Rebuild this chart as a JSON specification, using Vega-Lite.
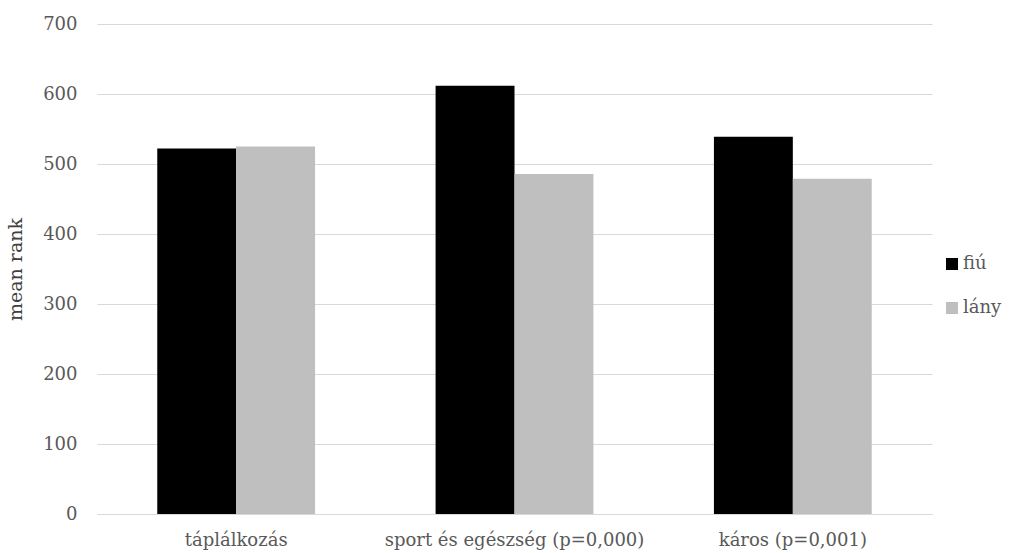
{
  "$schema": "https://vega.github.io/schema/vega-lite/v6.json",
  "width": 835,
  "height": 490,
  "autosize": "none",
  "padding": {"left": 97, "top": 24, "right": 101, "bottom": 39},
  "background": "white",
  "config": {
    "view": {"stroke": null},
    "font": "DejaVu Serif"
  },
  "data": {
    "values": [
      {"kategoria": "táplálkozás", "nem": "fiú", "rang": 522.3},
      {"kategoria": "táplálkozás", "nem": "lány", "rang": 525.1},
      {"kategoria": "sport és egészség (p=0,000)", "nem": "fiú", "rang": 611.9},
      {"kategoria": "sport és egészség (p=0,000)", "nem": "lány", "rang": 485.7},
      {"kategoria": "káros (p=0,001)", "nem": "fiú", "rang": 539.0},
      {"kategoria": "káros (p=0,001)", "nem": "lány", "rang": 479.0}
    ]
  },
  "mark": {"type": "bar"},
  "encoding": {
    "x": {
      "field": "kategoria",
      "type": "nominal",
      "sort": null,
      "scale": {"paddingInner": 0.433, "paddingOuter": 0.2165},
      "axis": {
        "title": null,
        "labelAngle": 0,
        "labelLimit": 0,
        "labelFont": "DejaVu Serif",
        "labelFontSize": 18,
        "labelColor": "#595959",
        "labelPadding": 17,
        "ticks": false,
        "domainColor": "#d9d9d9",
        "domainWidth": 1
      }
    },
    "xOffset": {"field": "nem", "type": "nominal", "sort": ["fiú", "lány"]},
    "y": {
      "field": "rang",
      "type": "quantitative",
      "scale": {"domain": [0, 700], "nice": false},
      "axis": {
        "title": "mean rank",
        "titleFont": "DejaVu Serif",
        "titleFontSize": 19,
        "titleFontWeight": "normal",
        "titleColor": "#404040",
        "titlePadding": 17,
        "values": [0, 100, 200, 300, 400, 500, 600, 700],
        "labelFont": "DejaVu Serif",
        "labelFontSize": 18,
        "labelColor": "#595959",
        "labelPadding": 20,
        "ticks": false,
        "domain": false,
        "gridColor": "#d9d9d9",
        "gridWidth": 1
      }
    },
    "color": {
      "field": "nem",
      "type": "nominal",
      "scale": {"domain": ["fiú", "lány"], "range": ["#000000", "#bfbfbf"]},
      "legend": {
        "title": null,
        "orient": "none",
        "legendX": 846,
        "legendY": 231,
        "symbolType": "square",
        "symbolSize": 144,
        "symbolStrokeWidth": 0,
        "labelFont": "DejaVu Serif",
        "labelFontSize": 18,
        "labelColor": "#595959",
        "labelOffset": 2,
        "rowPadding": 26
      }
    }
  }
}
